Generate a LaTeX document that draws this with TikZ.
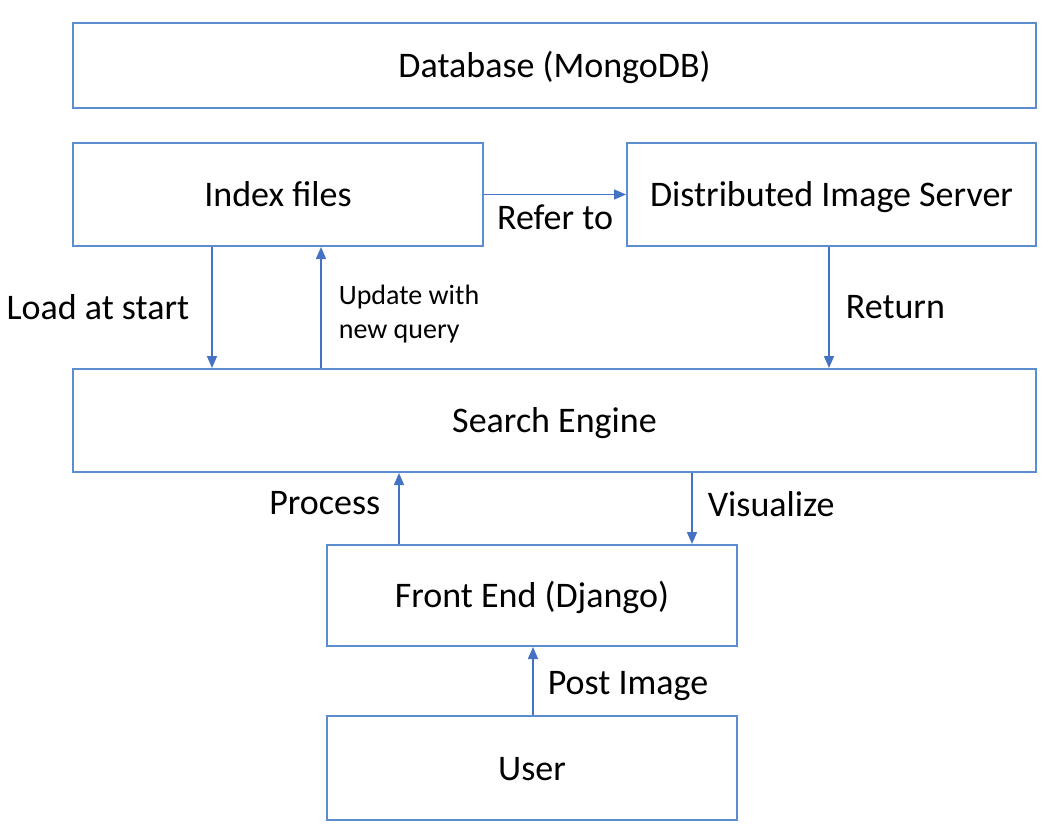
\documentclass[tikz,border=0pt]{standalone}
\usepackage{fontspec}
\setmainfont{Carlito}
\usetikzlibrary{arrows.meta,positioning}

\definecolor{boxblue}{RGB}{91,141,207}
\definecolor{arrblue}{RGB}{68,114,196}

\begin{document}
\begin{tikzpicture}[x=0.5pt, y=-0.5pt,
    box/.style={draw=boxblue, line width=1pt, inner sep=0pt, text height=15pt, text depth=3pt, font=\fontsize{18}{22}\selectfont},
    lbl/.style={inner sep=0pt, font=\fontsize{18}{22}\selectfont},
    small/.style={inner sep=0pt, align=left, font=\fontsize{14}{17}\selectfont},
    arr/.style={draw=arrblue, line width=0.8pt, -{Triangle[length=6pt,width=5pt]}}]

    \useasboundingbox (0,0) rectangle (1052,830);

    % caixas
    \node[box, minimum width=481.5pt, minimum height=42.5pt] (db) at (554.5,65.5) {Database (MongoDB)};
    \node[box, minimum width=205pt, minimum height=51.5pt] (index) at (278,194.5) {Index files};
    \node[box, minimum width=204.5pt, minimum height=51.5pt] (server) at (831.5,194.5) {Distributed Image Server};
    \node[box, minimum width=481.5pt, minimum height=51.5pt] (search) at (554.5,420.5) {Search Engine};
    \node[box, minimum width=205pt, minimum height=50.5pt] (front) at (532,595.5) {Front End (Django)};
    \node[box, minimum width=205pt, minimum height=52pt] (user) at (532,768) {User};

    % posições das setas
    \coordinate (xload) at (212,0);
    \coordinate (xupd) at (321,0);
    \coordinate (xret) at (829,0);
    \coordinate (xproc) at (399,0);
    \coordinate (xvis) at (692,0);
    \coordinate (xpost) at (533,0);

    % setas
    \draw[arr] (index.south -| xload) -- node[lbl, left=11pt] (lload) {Load at start} (search.north -| xload);
    \draw[arr] (search.north -| xupd) -- node[small, right=8.5pt, yshift=-3.5pt] (lupd) {Update with\\new query} (index.south -| xupd);
    \draw[arr] (index.east) -- node[lbl, below=5pt] (lref) {Refer to} (server.west);
    \draw[arr] (server.south -| xret) -- node[lbl, right=8pt] (lret) {Return} (search.north -| xret);
    \draw[arr] (front.north -| xproc) -- node[lbl, left=9pt, yshift=2.5pt] (lproc) {Process} (search.south -| xproc);
    \draw[arr] (search.south -| xvis) -- node[lbl, right=7.5pt, yshift=2pt] (lvis) {Visualize} (front.north -| xvis);
    \draw[arr] (user.north -| xpost) -- node[lbl, right=7pt, yshift=-2.5pt] (lpost) {Post Image} (front.south -| xpost);

\end{tikzpicture}
\end{document}
